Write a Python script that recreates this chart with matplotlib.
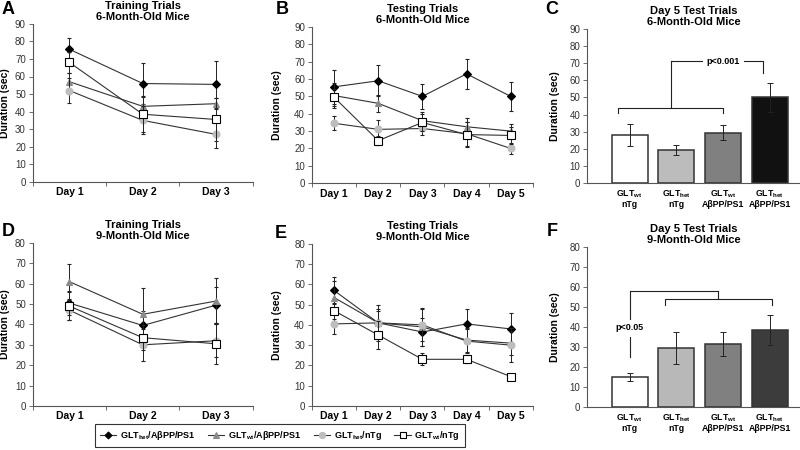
import matplotlib
matplotlib.use('Agg')
import matplotlib.pyplot as plt
from matplotlib.lines import Line2D

# ********** Data *********************
days3 = ['Day 1', 'Day 2', 'Day 3']
days5 = ['Day 1', 'Day 2', 'Day 3', 'Day 4', 'Day 5']

# group order: GLThet/APP, GLTwt/APP, GLThet/nTg, GLTwt/nTg
group_labels = [r'GLT$_{\mathbf{het}}$/AβPP/PS1', r'GLT$_{\mathbf{wt}}$/AβPP/PS1',
                r'GLT$_{\mathbf{het}}$/nTg', r'GLT$_{\mathbf{wt}}$/nTg']

train6_mean = [[75.5, 56, 55.5], [57, 43, 44.5], [52, 35, 27], [68, 38.5, 35.5]]
train6_err = [[6.5, 11.5, 13.5], [5, 6, 3], [7, 8, 7.5], [6, 10, 12]]

test6_mean = [[55.5, 59, 50, 63, 50], [50.5, 46, 36, 32.5, 30],
              [34.5, 31, 31.5, 28.5, 20], [49.5, 24.5, 35, 28, 27.5]]
test6_err = [[10, 9, 7, 8.5, 8.5], [7, 5, 5, 5, 4],
             [4, 5.5, 3.5, 7, 3], [5, 2.5, 5, 7, 5]]

train9_mean = [[50.5, 39.5, 49.5], [61, 45, 51.5], [47, 30, 32], [49, 33.5, 30.5]]
train9_err = [[6, 7, 9], [8.5, 13, 11.5], [5, 8, 8], [7, 6, 10]]

test9_mean = [[57, 41, 36.5, 40.5, 38], [53.5, 41, 39, 32.5, 31],
              [40.5, 41, 40, 32, 30], [47, 35, 23, 23, 14.5]]
test9_err = [[6.5, 9, 7, 7.5, 8], [8, 6, 9.5, 6, 6],
             [5, 7, 8, 6, 8.5], [4, 7, 3, 2, 1.5]]

bar_labels = [r'GLT$_{\mathbf{wt}}$' + '\nnTg', r'GLT$_{\mathbf{het}}$' + '\nnTg',
              r'GLT$_{\mathbf{wt}}$' + '\nAβPP/PS1', r'GLT$_{\mathbf{het}}$' + '\nAβPP/PS1']
day5_6m = [28, 19.5, 29.5, 50]
day5_6m_err = [6.5, 3, 4.5, 8.5]
day5_9m = [15, 29.5, 31.5, 38.5]
day5_9m_err = [2, 8, 6, 7.5]
# ****************************************

plt.rcParams['font.family'] = ['Liberation Sans', 'DejaVu Sans']
plt.rcParams['mathtext.fontset'] = 'custom'
plt.rcParams['mathtext.rm'] = 'Liberation Sans'
plt.rcParams['mathtext.bf'] = 'Liberation Sans:bold'

markers = ['D', '^', 'o', 's']
mfaces = ['black', '#8a8a8a', '#bdbdbd', 'white']
medges = ['black', '#8a8a8a', '#bdbdbd', 'black']
msizes = [4, 5, 5, 5.5]

AX_COL = '#555555'


def style_axes(ax, ymax, label_x):
    for s in ['top', 'right']:
        ax.spines[s].set_visible(False)
    for s in ['left', 'bottom']:
        ax.spines[s].set_color(AX_COL)
        ax.spines[s].set_linewidth(0.8)
    ax.set_ylim(0, ymax)
    ax.set_yticks(range(0, ymax + 1, 10))
    ax.tick_params(axis='y', labelsize=7, labelcolor='#333333', length=3,
                   width=0.6, color=AX_COL, pad=2)
    ax.set_ylabel('Duration (sec)', fontsize=7.5, fontweight='bold')
    ax.yaxis.set_label_coords(label_x, 0.5)


def line_panel(ax, days, means, errs, ymax, title, label_x):
    x = list(range(len(days)))
    for i in range(4):
        ax.errorbar(x, means[i], yerr=errs[i], color='#333333', lw=0.8,
                    ecolor='#222222', elinewidth=0.7, capsize=1.5, capthick=0.7,
                    marker=markers[i], ms=msizes[i], mfc=mfaces[i], mec=medges[i],
                    mew=0.8, zorder=3 + i)
    ax.set_xlim(-0.5, len(days) - 0.5)
    ax.set_xticks(x)
    ax.set_xticklabels(days, fontsize=7.5, fontweight='bold')
    ax.tick_params(axis='x', which='major', length=0, pad=4)
    ax.set_xticks([b - 0.5 for b in range(len(days) + 1)], minor=True)
    ax.tick_params(axis='x', which='minor', length=3, width=0.6, color=AX_COL)
    style_axes(ax, ymax, label_x)
    ax.set_title(title, fontsize=8, fontweight='bold', pad=3, linespacing=1.05)


def bar_panel(ax, vals, errs, colors, ymax, title, label_x):
    x = list(range(len(vals)))
    ax.bar(x, vals, width=0.77, color=colors, edgecolor='#333333', linewidth=1.1,
           yerr=errs, error_kw=dict(ecolor='#222222', elinewidth=0.7, capsize=2,
                                    capthick=0.7))
    ax.set_xlim(-0.91, 3.65)
    ax.set_xticks(x)
    ax.set_xticklabels(bar_labels, fontsize=6.3, fontweight='bold', linespacing=1.0)
    ax.tick_params(axis='x', length=0, pad=4)
    style_axes(ax, ymax, label_x)
    ax.set_title(title, fontsize=8, fontweight='bold', pad=3, linespacing=1.05)


fig = plt.figure(figsize=(8, 4.5), dpi=100)

axA = fig.add_axes([0.041, 0.596, 0.275, 0.351])
axB = fig.add_axes([0.39, 0.593, 0.276, 0.347])
axC = fig.add_axes([0.734, 0.593, 0.266, 0.343])
axD = fig.add_axes([0.041, 0.098, 0.275, 0.362])
axE = fig.add_axes([0.39, 0.098, 0.276, 0.360])
axF = fig.add_axes([0.734, 0.096, 0.266, 0.355])

line_panel(axA, days3, train6_mean, train6_err, 90,
           'Training Trials\n6-Month-Old Mice', -0.104)
line_panel(axB, days5, test6_mean, test6_err, 90,
           'Testing Trials\n6-Month-Old Mice', -0.136)
line_panel(axD, days3, train9_mean, train9_err, 80,
           'Training Trials\n9-Month-Old Mice', -0.104)
line_panel(axE, days5, test9_mean, test9_err, 80,
           'Testing Trials\n9-Month-Old Mice', -0.136)

bar_panel(axC, day5_6m, day5_6m_err, ['white', '#bcbcbc', '#808080', '#111111'], 90,
          'Day 5 Test Trials\n6-Month-Old Mice', -0.13)
bar_panel(axF, day5_9m, day5_9m_err, ['white', '#b8b8b8', '#808080', '#3c3c3c'], 80,
          'Day 5 Test Trials\n9-Month-Old Mice', -0.13)

# significance brackets, panel C
bk = dict(color='#222222', lw=0.8)
axC.plot([-0.25, -0.25, 2.0, 2.0], [41, 44, 44, 41], **bk)
axC.plot([0.875, 0.875], [44, 71], **bk)
axC.plot([0.875, 1.55], [71, 71], **bk)
axC.plot([2.45, 2.85, 2.85], [71, 71, 64], **bk)
axC.text(2.0, 71, 'p<0.001', fontsize=6.5, fontweight='bold', ha='center', va='center')

# significance brackets, panel F
axF.plot([0.75, 0.75, 3.05, 3.05], [51, 54, 54, 51], **bk)
axF.plot([1.9, 1.9], [54, 58], **bk)
axF.plot([0, 1.9], [58, 58], **bk)
axF.plot([0, 0], [58, 44], **bk)
axF.plot([0, 0], [35, 25], **bk)
axF.text(0, 39.7, 'p<0.05', fontsize=6.5, fontweight='bold', ha='center', va='center')

# panel letters
for letter, px, py in [('A', 8, 10), ('B', 282, 10), ('C', 552, 10),
                       ('D', 8, 232), ('E', 281, 233), ('F', 552, 232)]:
    fig.text(px / 800, 1 - py / 450, letter, fontsize=13, fontweight='bold',
             ha='center', va='center')

handles = [Line2D([0], [0], color='#333333', lw=0.8, marker=markers[i], ms=msizes[i] - 0.5,
                  mfc=mfaces[i], mec=medges[i], mew=0.8) for i in range(4)]
leg = fig.legend(handles, group_labels, loc='upper left', ncol=4,
                 bbox_to_anchor=(95 / 800, 1 - 424 / 450), frameon=True, fancybox=False,
                 edgecolor='black', prop={'weight': 'bold', 'size': 6.5},
                 handlelength=1.8, handletextpad=0.4, columnspacing=1.4,
                 borderpad=0.55, borderaxespad=0)
leg.get_frame().set_linewidth(0.8)

fig.savefig('out.png', dpi=100)
